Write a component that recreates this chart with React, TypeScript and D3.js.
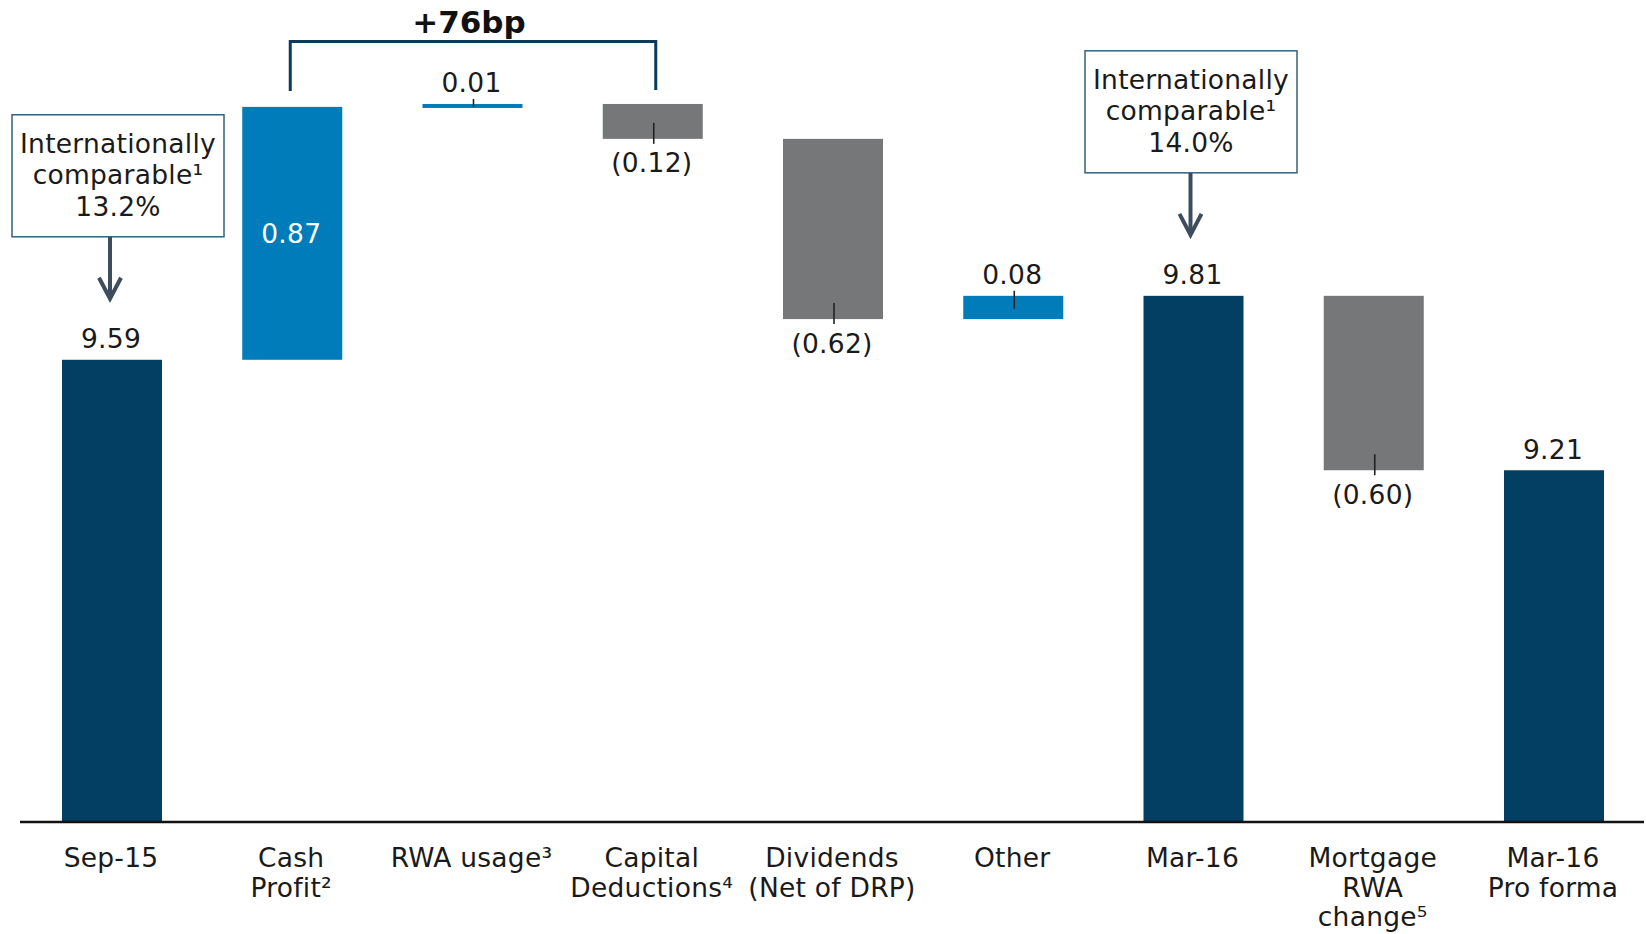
import React from "react";
import * as d3 from "d3";

const categoryLines: string[][] = [
  ["Sep-15"],
  ["Cash", "Profit²"],
  ["RWA usage³"],
  ["Capital", "Deductions⁴"],
  ["Dividends", "(Net of DRP)"],
  ["Other"],
  ["Mar-16"],
  ["Mortgage", "RWA", "change⁵"],
  ["Mar-16", "Pro forma"],
];
const categoryKeys = categoryLines.map((l) => l.join(" "));
const values = [9.59, 0.87, 0.01, -0.12, -0.62, 0.08, 9.81, -0.6, 9.21];
const isTotal = [true, false, false, false, false, false, true, false, true];
const insideLabelIndex = 1;

const calloutTargets = [0, 6];
const calloutLines: string[][] = [
  ["Internationally", "comparable¹", "13.2%"],
  ["Internationally", "comparable¹", "14.0%"],
];
const bracketFrom = 1;
const bracketTo = 3;
const bracketLabel = "+76bp";

const AXIS_MIN = 8;

const NAVY = "#023f63";
const BLUE = "#007cba";
const GRAY = "#767779";
const TEXT = "#1a1a1a";
const FONT = "'DejaVu Sans', Verdana, sans-serif";

export default function App() {
  const W = 1646;
  const H = 934;
  const baseY = 822;
  const y = d3.scaleLinear().domain([AXIS_MIN, 10.5]).range([baseY, baseY - 2.5 * 290.7]);
  const x = d3.scalePoint<string>().domain(categoryKeys).range([112, 1554]);
  const bw = 100;

  let running = AXIS_MIN;
  const bars = values.map((v, i) => {
    let start: number, end: number;
    if (isTotal[i]) {
      start = AXIS_MIN;
      end = v;
      running = v;
    } else {
      start = running;
      end = running + v;
      running = end;
    }
    const top = y(Math.max(start, end));
    const bottom = y(Math.min(start, end));
    const color = isTotal[i] ? NAVY : v >= 0 ? BLUE : GRAY;
    return { i, v, cx: x(categoryKeys[i]) as number, top, bottom, color };
  });

  const fmt = (v: number) => (v < 0 ? `(${d3.format(".2f")(-v)})` : d3.format(".2f")(v));

  const fs = 26.5;
  const ls = 0.25;

  return (
    <svg
      width={W}
      height={H}
      style={{ position: "absolute", left: 0, top: 0, background: "#fff" }}
      fontFamily={FONT}
    >
      <rect x={0} y={0} width={W} height={H} fill="#fff" />
      {bars.map((b) => (
        <rect
          key={"bar" + b.i}
          x={b.cx - bw / 2}
          y={b.top}
          width={bw}
          height={Math.max(b.bottom - b.top, 4)}
          fill={b.color}
        />
      ))}
      {/* leader ticks */}
      {bars.map((b) => {
        if (isTotal[b.i] || b.i === insideLabelIndex) return null;
        const bottom = Math.max(b.bottom, b.top + 4);
        let y1: number, y2: number;
        if (b.v < 0) {
          y1 = bottom - 16;
          y2 = bottom + 5;
        } else {
          y1 = b.top - 5;
          y2 = Math.min(b.top + 13, bottom - 1);
        }
        return (
          <line
            key={"tick" + b.i}
            x1={b.cx + 1}
            x2={b.cx + 1}
            y1={y1}
            y2={y2}
            stroke="#222"
            strokeWidth={1.6}
          />
        );
      })}
      {/* value labels */}
      {bars.map((b) => {
        let ty: number;
        let fill = TEXT;
        if (b.i === insideLabelIndex) {
          ty = (b.top + b.bottom) / 2 + 10;
          fill = "#fff";
        } else if (b.v < 0) {
          ty = Math.max(b.bottom, b.top + 4) + 33.5;
        } else {
          ty = b.top - 11.5;
        }
        return (
          <text
            key={"lab" + b.i}
            x={b.cx - 1}
            y={ty}
            textAnchor="middle"
            fontSize={fs}
            letterSpacing={ls}
            fill={fill}
          >
            {fmt(b.v)}
          </text>
        );
      })}
      {/* axis */}
      <line x1={20} x2={1644} y1={baseY} y2={baseY} stroke="#111" strokeWidth={2.5} />
      {categoryLines.map((lines, i) => (
        <text
          key={"cat" + i}
          x={(x(categoryKeys[i]) as number) - 1}
          y={867}
          textAnchor="middle"
          fontSize={fs}
          letterSpacing={ls}
          fill={TEXT}
        >
          {lines.map((ln, j) => (
            <tspan key={j} x={(x(categoryKeys[i]) as number) - 1} dy={j === 0 ? 0 : 29.5}>
              {ln}
            </tspan>
          ))}
        </text>
      ))}
      {/* bracket */}
      {(() => {
        const x1 = bars[bracketFrom].cx - 2;
        const x2 = bars[bracketTo].cx + 3;
        const by = 41.5;
        return (
          <g>
            <path
              d={`M${x1},${bars[bracketFrom].top - 16} V${by} H${x2} V${bars[bracketTo].top - 14}`}
              fill="none"
              stroke="#0b3b5c"
              strokeWidth={3}
            />
            <text
              x={(x1 + x2) / 2 - 4}
              y={33}
              textAnchor="middle"
              fontSize={31}
              fontWeight="bold"
              fill="#111"
            >
              {bracketLabel}
            </text>
          </g>
        );
      })()}
      {/* callouts */}
      {calloutTargets.map((ti, k) => {
        const b = bars[ti];
        const boxW = 212;
        const boxH = 122;
        const cxBox = k === 0 ? b.cx + 6 : b.cx - 2.5;
        const ax = k === 0 ? b.cx - 2 : b.cx - 3;
        const boxBottom = b.top - 123;
        const boxTop = boxBottom - boxH;
        const tip = b.top - 61;
        return (
          <g key={"call" + k}>
            <rect
              x={cxBox - boxW / 2}
              y={boxTop}
              width={boxW}
              height={boxH}
              fill="#fff"
              stroke="#33627f"
              strokeWidth={1.5}
            />
            {calloutLines[k].map((ln, j) => (
              <text
                key={j}
                x={cxBox}
                y={boxTop + 38 + j * 31.5}
                textAnchor="middle"
                fontSize={fs}
                letterSpacing={ls}
                fill={TEXT}
              >
                {ln}
              </text>
            ))}
            <line x1={ax} x2={ax} y1={boxBottom} y2={tip - 2} stroke="#3d4d5d" strokeWidth={4} />
            <path
              d={`M${ax - 11},${tip - 21} L${ax},${tip} L${ax + 11},${tip - 21}`}
              fill="none"
              stroke="#3d4d5d"
              strokeWidth={4}
            />
          </g>
        );
      })}
    </svg>
  );
}
